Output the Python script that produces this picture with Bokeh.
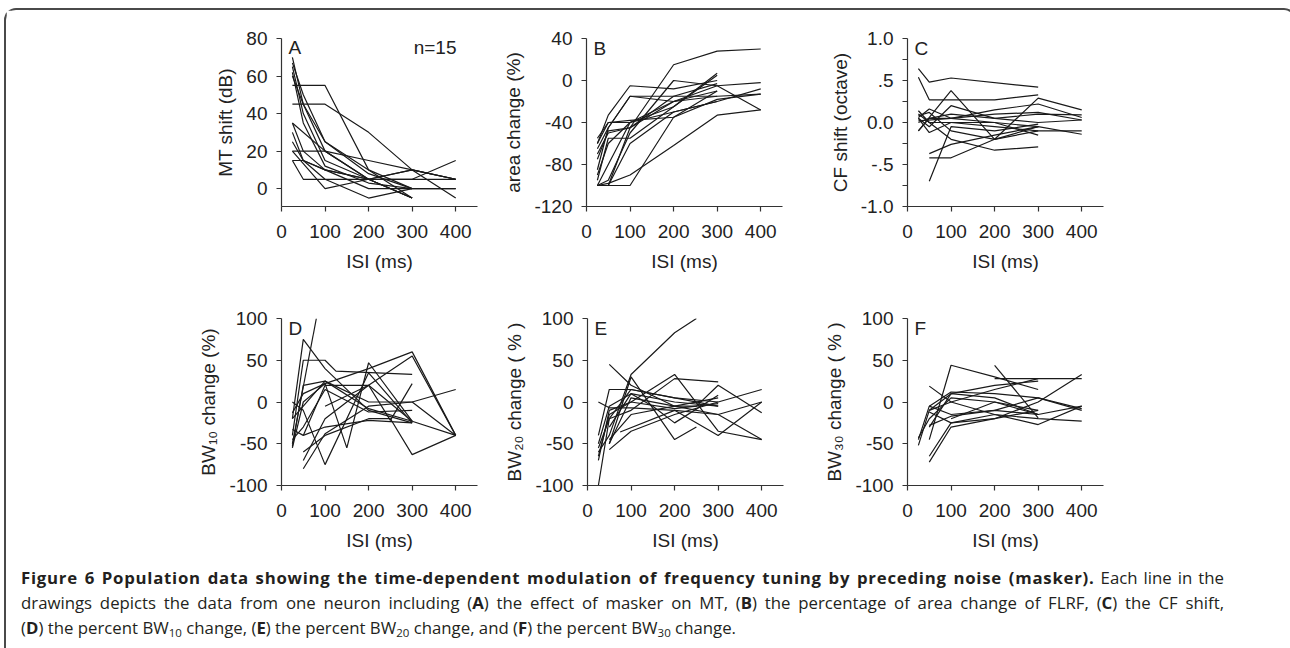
from bokeh.plotting import figure
from bokeh.models import Range1d, FixedTicker, Label, Div, ColumnDataSource, CustomJSTickFormatter
from bokeh.layouts import row, column
from bokeh.embed import file_html
from bokeh.resources import INLINE

FONT = "Liberation Sans"
TXT = "#222222"
AX = "#333333"
LINE = "#1a1a1a"
FS = "19px"

X_TICKS = [0, 100, 200, 300, 400]

# ---------------- Panel A : MT shift (dB) ----------------
A_isi = [
    [25, 50, 100, 200, 300],
    [25, 50, 100, 200, 300],
    [25, 50, 100, 200, 300],
    [25, 50, 100, 200, 300],
    [25, 50, 100, 200, 300],
    [25, 100, 200, 300],
    [25, 100, 200, 300, 400],
    [25, 50, 100, 200, 300, 400],
    [25, 100, 200, 300, 400],
    [25, 50, 100, 200, 300, 400],
    [25, 100, 200, 300, 400],
    [25, 50, 100, 200, 300],
    [25, 50, 100, 400],
    [25, 100, 200, 300, 400],
    [25, 50, 100, 200, 300, 400],
]
A_val = [
    [70, 45, 20, 5, -5],
    [67, 50, 25, 8, 0],
    [65, 40, 15, 5, -5],
    [62, 35, 12, 3, 0],
    [60, 45, 25, 10, -5],
    [55, 55, 10, 0],
    [45, 45, 30, 10, -5],
    [35, 20, 10, 5, 10, 5],
    [35, 20, 5, 5, 15],
    [25, 15, 10, 0, 0, 0],
    [20, 20, 15, 10, 5],
    [15, 15, 10, 5, -5],
    [15, 5, 5, 5],
    [20, 0, 5, 10, 5],
    [30, 15, 5, -5, 0, 0],
]

# ---------------- Panel B : area change (%) ----------------
B_isi = [
    [25, 50, 100, 200, 300, 400],
    [25, 50, 100, 200, 300, 400],
    [25, 50, 100, 200, 300],
    [25, 50, 100, 200, 300, 400],
    [25, 50, 100, 200, 300, 400],
    [25, 50, 100, 200, 300],
    [25, 50, 100, 200, 300, 400],
    [25, 50, 100, 200, 300],
    [25, 50, 100, 200, 300, 400],
    [25, 50, 100, 200, 300],
    [25, 50, 100, 200, 300],
    [25, 50, 100, 200, 300],
    [25, 50, 100, 200, 300, 400],
    [25, 50, 100, 200, 300],
    [25, 50, 100, 200, 300],
]
B_val = [
    [-100, -100, -45, 15, 28, 30],
    [-100, -98, -90, -62, -33, -28],
    [-100, -100, -100, -35, -10],
    [-90, -60, -40, -20, -5, -2],
    [-55, -40, -40, -30, -20, -8],
    [-60, -33, -5, -8, 0],
    [-65, -45, -15, -15, -15, -13],
    [-95, -55, -55, -25, 5],
    [-100, -95, -50, 0, -5, -28],
    [-70, -50, -45, -20, -15],
    [-100, -100, -60, -30, -20],
    [-85, -45, -15, -20, -10],
    [-60, -40, -38, -35, -18, -13],
    [-100, -80, -40, -25, 7],
    [-75, -48, -45, -15, -3],
]

# ---------------- Panel C : CF shift (octave) ----------------
C_isi = [
    [25, 50, 100, 300],
    [25, 50, 200, 300],
    [25, 100, 200, 300, 400],
    [50, 100, 200, 300],
    [50, 100, 200, 300],
    [50, 100, 200, 300, 400],
    [25, 50, 100, 200, 300],
    [25, 50, 100, 200, 300, 400],
    [25, 50, 100, 200, 300, 400],
    [25, 50, 100, 200, 300, 400],
    [25, 50, 100, 200, 300, 400],
    [25, 50, 100, 200, 300],
    [25, 50, 100, 200, 300],
    [25, 100, 200, 300, 400],
    [25, 50, 100, 200, 300],
]
C_val = [
    [0.64, 0.48, 0.53, 0.42],
    [0.54, 0.27, 0.27, 0.33],
    [-0.10, 0.38, -0.20, 0.29, 0.15],
    [-0.70, -0.05, -0.10, -0.02],
    [-0.42, -0.42, -0.20, -0.10],
    [-0.37, -0.26, -0.15, -0.05, -0.14],
    [0.14, 0.00, -0.20, -0.33, -0.29],
    [0.06, 0.16, 0.05, 0.15, 0.22, 0.06],
    [0.05, -0.05, 0.20, 0.05, 0.10, 0.09],
    [0.10, 0.00, 0.00, -0.05, -0.10, -0.10],
    [-0.10, 0.05, 0.10, 0.05, 0.00, 0.03],
    [0.05, -0.12, 0.00, 0.00, -0.15],
    [0.08, 0.12, -0.10, -0.20, -0.05],
    [0.02, 0.05, 0.10, 0.12, 0.03],
    [0.00, 0.05, 0.05, 0.00, -0.05],
]

# ---------------- Panel D : BW10 change (%) ----------------
D_isi = [
    [25, 80],
    [25, 50, 100, 200, 300],
    [25, 50, 100, 125, 300],
    [25, 50, 100, 200, 300, 400],
    [25, 50, 100, 200, 300],
    [25, 50, 100, 150, 200, 300],
    [50, 100, 200, 300, 400],
    [50, 100, 200, 250, 300],
    [25, 50, 100, 200, 300],
    [25, 50, 100, 200, 300, 400],
    [50, 100, 200, 250, 300, 400],
    [25, 50, 100, 200, 300, 400],
    [50, 100, 200, 300],
    [25, 50, 100, 200, 300],
    [100, 200, 300, 400],
]
D_val = [
    [-50, 100],
    [-20, 75, 40, -10, -25],
    [-40, 50, 50, 37, 33],
    [-55, 0, 22, 40, 60, -40],
    [0, -10, -75, 35, -25],
    [-13, 10, 22, -55, 47, -23],
    [-80, -38, -5, 0, 15],
    [-70, -20, 20, -22, 22],
    [-33, -40, 20, 20, -23],
    [-20, -5, 25, -8, -23, -40],
    [-60, -40, -20, -20, -63, -40],
    [-53, 20, 25, 0, 0, -40],
    [-40, -30, -22, -25],
    [-45, -30, 15, -12, -10],
    [-5, 20, 55, -40],
]

# ---------------- Panel E : BW20 change (%) ----------------
E_isi = [
    [25, 50, 100, 200, 300],
    [25, 50, 100, 200, 250],
    [50, 100, 200, 300, 400],
    [25, 50, 100, 200, 300],
    [25, 50, 100, 200, 300, 400],
    [50, 100, 200, 250],
    [50, 100, 200, 300, 400],
    [75, 200, 300, 400],
    [25, 50, 100, 200, 300, 400],
    [50, 100, 200, 250, 300, 400],
    [25, 50, 100, 200, 300],
    [50, 100, 150, 200, 300],
    [25, 50, 100, 200, 300],
    [50, 100, 200, 300],
    [25, 50, 100, 200, 300],
]
E_val = [
    [-100, -20, 15, 5, 0],
    [-60, -40, 33, 83, 100],
    [45, 20, -5, -15, -45],
    [-40, 15, 15, 5, -5],
    [0, -7, -7, -10, -15, 0],
    [-50, 30, -45, -30],
    [-57, -35, -15, 0, 15],
    [-36, -10, -40, 0],
    [-70, -10, 0, 33, -35, -45],
    [-50, 5, -5, -5, 20, -13],
    [-55, -20, -10, 28, 24],
    [-30, 10, -5, -25, 8],
    [-65, -15, 0, -8, -2],
    [-45, -15, -5, 5],
    [-50, -5, 10, 0, -5],
]

# ---------------- Panel F : BW30 change (%) ----------------
F_isi = [
    [50, 100, 200, 300],
    [25, 50, 100, 200, 300, 400],
    [25, 50, 100, 200, 300],
    [50, 100, 200, 300, 400],
    [50, 100, 200, 300],
    [200, 300],
    [200, 300, 400],
    [50, 100, 200, 300, 400],
    [50, 100, 200, 300, 400],
    [50, 100, 200, 300, 400],
    [50, 100, 200, 300],
    [100, 200, 300],
    [50, 100, 200, 300],
    [50, 100, 200, 300, 400],
    [25, 50, 100, 200, 300],
]
F_val = [
    [-72, -30, -20, -10],
    [-52, -10, 10, 5, -15, -5],
    [-43, -20, 5, 0, -15],
    [19, 0, -15, -20, -23],
    [-45, 44, 30, 15],
    [44, -19],
    [28, 28, 28],
    [-12, -25, -20, 0, 33],
    [-28, -17, -10, 5, -10],
    [-65, -25, -15, -27, -5],
    [-30, 10, 20, 25],
    [-20, 0, -10],
    [-10, 0, 15, 28],
    [-5, 12, 10, 5, -8],
    [-45, -5, -15, -10, -15],
]

CAP_LINE1_BOLD = "Figure 6 Population data showing the time-dependent modulation of frequency tuning by preceding noise (masker)."
CAP_LINE1_REST = "Each line in the"


def style_axes(p):
    p.xgrid.visible = False
    p.ygrid.visible = False
    p.outline_line_color = None
    p.background_fill_color = "white"
    p.border_fill_color = "white"
    for ax in (p.xaxis[0], p.yaxis[0]):
        ax.axis_line_color = AX
        ax.axis_line_width = 1.2
        ax.major_tick_line_color = AX
        ax.major_tick_line_width = 1.2
        ax.major_tick_out = 5
        ax.major_tick_in = 0
        ax.minor_tick_line_color = None
        ax.major_label_text_font = FONT
        ax.major_label_text_font_size = FS
        ax.major_label_text_color = TXT
        ax.axis_label_text_font = FONT
        ax.axis_label_text_font_size = FS
        ax.axis_label_text_font_style = "normal"
        ax.axis_label_text_color = TXT
    p.xaxis[0].ticker = FixedTicker(ticks=X_TICKS)
    p.xaxis[0].major_label_standoff = 13
    p.xaxis[0].axis_label_standoff = 10
    p.xaxis[0].axis_label = "ISI (ms)"
    p.yaxis[0].major_label_standoff = 9
    p.yaxis[0].axis_label_standoff = 7
    p.yaxis[0].formatter = CustomJSTickFormatter(code="return tick.toString();")


def make_panel(letter, xs, ys, yr, yticks, w, left, right, h, top, bottom,
               ylabel, minor=None):
    p = figure(width=w, height=h, x_range=Range1d(0, 450), y_range=Range1d(*yr),
               output_backend="svg", toolbar_location=None,
               min_border_left=left, min_border_right=right,
               min_border_top=top, min_border_bottom=bottom)
    src = ColumnDataSource(dict(xs=xs, ys=ys))
    p.multi_line(xs="xs", ys="ys", source=src, line_color=LINE, line_width=1.2)
    style_axes(p)
    if minor is not None:
        p.yaxis[0].ticker = FixedTicker(ticks=yticks, minor_ticks=minor)
        p.yaxis[0].minor_tick_line_color = AX
        p.yaxis[0].minor_tick_line_width = 1.2
        p.yaxis[0].minor_tick_out = 5
        p.yaxis[0].minor_tick_in = 0
    else:
        p.yaxis[0].ticker = FixedTicker(ticks=yticks)
    p.yaxis[0].axis_label = ylabel
    fh = h - top - bottom
    p.add_layout(Label(x=7, y=fh + 1, x_units="screen", y_units="screen", text=letter,
                       text_font=FONT, text_font_size=FS, text_color=TXT,
                       text_align="left", text_baseline="top"))
    return p, fh


pA, fhA = make_panel("A", A_isi, A_val, (-9.5, 80), [0, 20, 40, 60, 80],
                     484, 275, 13, 280, 28, 83, "MT shift (dB)")
pA.add_layout(Label(x=175, y=fhA + 1, x_units="screen", y_units="screen", text="n=15",
                    text_font=FONT, text_font_size=FS, text_color=TXT,
                    text_align="right", text_baseline="top"))
pB, _ = make_panel("B", B_isi, B_val, (-120, 40), [-120, -80, -40, 0, 40],
                   325, 96, 33, 280, 28, 84, "area change (%)")
pC, _ = make_panel("C", C_isi, C_val, (-1, 1), [-1, -0.5, 0, 0.5, 1],
                   471, 92, 183, 280, 28, 84, "CF shift (octave)",
                   minor=[-0.75, -0.25, 0.25, 0.75])
pC.yaxis[0].formatter = CustomJSTickFormatter(
    code="if (Math.abs(tick-0.5)<1e-9) return '.5'; if (Math.abs(tick+0.5)<1e-9) return '-.5'; return tick.toFixed(1);")

pD, _ = make_panel("D", D_isi, D_val, (-100, 100), [-100, -50, 0, 50, 100],
                   484, 275, 13, 275, 28, 80, "BW\u2081\u2080 change (%)")
pE, _ = make_panel("E", E_isi, E_val, (-100, 100), [-100, -50, 0, 50, 100],
                   325, 97, 32, 275, 28, 80, "BW\u2082\u2080 change ( % )")
pF, _ = make_panel("F", F_isi, F_val, (-100, 100), [-100, -50, 0, 50, 100],
                   471, 92, 183, 275, 28, 80, "BW\u2083\u2080 change ( % )")

sub_css = "font-size:11.5px;line-height:0;vertical-align:-3px;"
just = "text-align:justify;text-align-last:justify;width:1203px;"
cap_html = (
    '<div style="font-family:\'Open Sans\';font-size:16.8px;line-height:25px;color:#231f20;'
    'white-space:nowrap;margin-left:10px;margin-top:-5px;">'
    f'<div style="{just}"><b style="letter-spacing:0.75px;">{CAP_LINE1_BOLD}</b> {CAP_LINE1_REST}</div>'
    f'<div style="{just}">drawings depicts the data from one neuron including (<b>A</b>) the effect of masker on MT, '
    '(<b>B</b>) the percentage of area change of FLRF, (<b>C</b>) the CF shift,</div>'
    f'<div>(<b>D</b>) the percent BW<span style="{sub_css}">10</span> change, '
    f'(<b>E</b>) the percent BW<span style="{sub_css}">20</span> change, '
    f'and (<b>F</b>) the percent BW<span style="{sub_css}">30</span> change.</div>'
    '</div>'
)
cap = Div(text=cap_html, width=1278, height=80)

layout = column(row(pA, pB, pC), row(pD, pE, pF), cap, margin=(8, 0, 0, 4),
                styles={"border": "2px solid #4a4a4a", "border-bottom": "none",
                        "border-radius": "12px 12px 0 0"})

open("out.html", "w").write(file_html(layout, INLINE))
